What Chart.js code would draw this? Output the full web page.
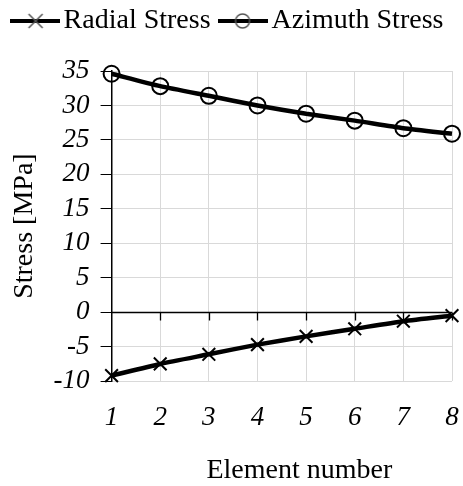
<!DOCTYPE html>
<html lang="en">
<head>
    <meta charset="UTF-8">
    <title>Element Stress</title>
    <style>
        html, body { margin: 0; padding: 0; background: #fff; }
        #wrap { width: 463px; height: 486px; }
    </style>
</head>
<body>
    <div id="wrap">
        <canvas id="stressChart"></canvas>
    </div>

    <script src="https://cdn.jsdelivr.net/npm/chart.js"></script>

<script>

// element numbers along the bottom
const elements = ['1', '2', '3', '4', '5', '6', '7', '8']

// stresses in MPa for each element
const radialStress = [-9.2, -7.5, -6.1, -4.7, -3.5, -2.4, -1.3, -0.5]
const azimuthStress = [34.6, 32.8, 31.4, 30.0, 28.8, 27.8, 26.7, 25.9]

// y axis ticks
const yMin = -10
const yMax = 35
const yStep = 5

const serif = 'Liberation Serif, Times New Roman, serif'

// little line + marker picture used as the legend symbol
function legendSymbol(style) {
    const c = document.createElement('canvas')
    c.width = 50
    c.height = 22
    const g = c.getContext('2d')
    g.strokeStyle = '#000'
    g.lineWidth = 4
    g.beginPath()
    g.moveTo(0, 11)
    g.lineTo(50, 11)
    g.stroke()
    g.lineWidth = 1.5
    g.strokeStyle = '#555'
    g.beginPath()
    if (style === 'cross') {
        g.moveTo(19, 4); g.lineTo(33, 18)
        g.moveTo(33, 4); g.lineTo(19, 18)
    } else {
        g.arc(25, 11, 7, 0, Math.PI * 2)
    }
    g.stroke()
    return c
}

// axis line through zero with small tick marks below it
const zeroAxis = {
    id: 'zeroAxis',
    beforeDatasetsDraw(chart) {
        const ctx = chart.ctx
        const x = chart.scales.x
        const y0 = Math.round(chart.scales.y.getPixelForValue(0)) + 0.5
        ctx.save()
        ctx.strokeStyle = '#000'
        ctx.lineWidth = 1.3
        ctx.beginPath()
        ctx.moveTo(x.left, y0)
        ctx.lineTo(x.right, y0)
        for (let i = 1; i < elements.length; i++) {
            const px = Math.round(x.getPixelForValue(i)) + 0.5
            ctx.moveTo(px, y0)
            ctx.lineTo(px, y0 + 8)
        }
        ctx.stroke()
        ctx.restore()
    }
}

// leave some room between the legend and the plot
const legendGap = {
    id: 'legendGap',
    beforeInit(chart) {
        const fit = chart.legend.fit
        chart.legend.fit = function () {
            fit.call(this)
            this.height += 26
        }
    }
}

const symbols = [legendSymbol('cross'), legendSymbol('circle')]

new Chart(document.querySelector('#stressChart'), {
    type: 'line',
    data: {
        labels: elements,
        datasets: [{
            label: 'Radial Stress',
            data: radialStress,
            borderColor: '#000',
            borderWidth: 4.5,
            pointStyle: 'crossRot',
            pointRadius: 9,
            pointBorderWidth: 2,
            pointBorderColor: '#000',
            pointBackgroundColor: 'rgba(0,0,0,0)',
            tension: 0.2,
            clip: false
        }, {
            label: 'Azimuth Stress',
            data: azimuthStress,
            borderColor: '#000',
            borderWidth: 4.5,
            pointStyle: 'circle',
            pointRadius: 8,
            pointBorderWidth: 2,
            pointBorderColor: '#000',
            pointBackgroundColor: 'rgba(0,0,0,0)',
            tension: 0.2,
            clip: false
        }]
    },
    options: {
        responsive: true,
        maintainAspectRatio: false,
        animation: false,
        layout: { padding: { left: 0, right: 0, top: -10, bottom: 1 } },
        plugins: {
            tooltip: { enabled: false },
            legend: {
                position: 'top',
                labels: {
                    usePointStyle: true,
                    pointStyleWidth: 30,
                    padding: 17,
                    color: '#000',
                    font: { family: serif, size: 28, lineHeight: 1 },
                    generateLabels: chart => chart.data.datasets.map((ds, i) => ({
                        text: ds.label,
                        pointStyle: symbols[i],
                        fontColor: '#000',
                        lineWidth: 0,
                        datasetIndex: i
                    }))
                }
            }
        },
        scales: {
            x: {
                offset: false,
                border: { display: false },
                grid: { color: '#d9d9d9', drawTicks: false },
                ticks: {
                    color: '#000',
                    padding: 4,
                    font: { family: serif, size: 27, style: 'italic', lineHeight: 2.45 }
                },
                title: {
                    display: true,
                    // leading spaces nudge the title a little to the right
                    text: '     Element number',
                    color: '#000',
                    padding: { top: 0, bottom: 0 },
                    font: { family: serif, size: 28, lineHeight: 1.06 }
                }
            },
            y: {
                min: yMin,
                max: yMax,
                border: { color: '#000', width: 1.5 },
                grid: { color: '#d9d9d9', tickColor: '#000', tickLength: 11 },
                ticks: {
                    stepSize: yStep,
                    autoSkip: false,
                    color: '#000',
                    padding: 11,
                    font: { family: serif, size: 27, style: 'italic', lineHeight: 1 }
                },
                title: {
                    display: true,
                    text: 'Stress [MPa]',
                    color: '#000',
                    padding: { top: 8, bottom: 1 },
                    font: { family: serif, size: 28 }
                }
            }
        }
    },
    plugins: [zeroAxis, legendGap]
})

</script>

</body>
</html>
